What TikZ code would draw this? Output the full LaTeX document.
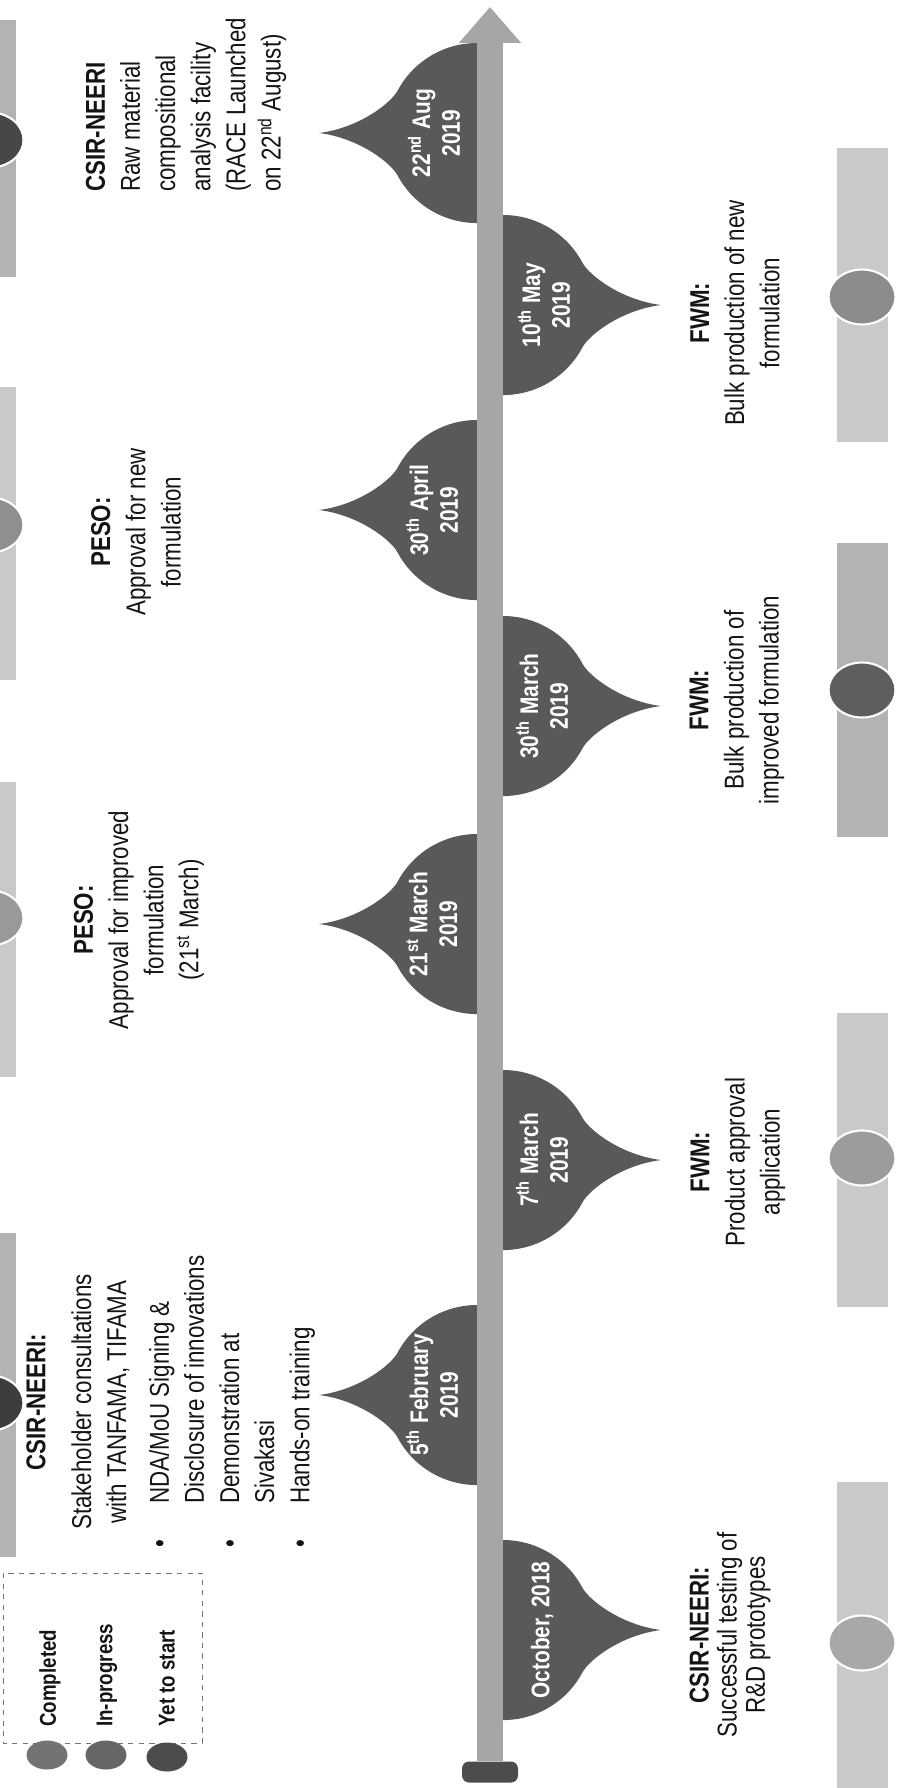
\documentclass[tikz,border=0pt]{standalone}
\usepackage{fontspec}
\setmainfont{Liberation Sans}[FakeStretch=0.82]
\usetikzlibrary{positioning,shapes.geometric,arrows.meta}
\definecolor{dropgray}{HTML}{595959}
\definecolor{bargray}{HTML}{A6A6A6}
\definecolor{striplight}{HTML}{C9C9C9}
\definecolor{stripdark}{HTML}{B3B3B3}
\definecolor{inktext}{HTML}{141414}
\tikzset{
date/.style={rotate=90, text=white, font=\fontsize{14.5pt}{17pt}\selectfont\bfseries, align=center, inner sep=0pt},
info/.style={rotate=90, text=inktext, font=\fontsize{15.5pt}{20pt}\selectfont, align=center, inner sep=0pt},
status/.style={ellipse, minimum width=1.34cm, minimum height=1.1cm, draw=white, line width=1.2pt, inner sep=0pt},
key/.style={ellipse, minimum width=0.82cm, minimum height=0.58cm, inner sep=0pt},
keytext/.style={rotate=90, anchor=west, text=inktext, font=\fontsize{13pt}{15pt}\selectfont\bfseries, inner sep=0pt},
keybox/.style={draw=black!55, dashed, line width=0.5pt},
stand/.style={rectangle, fill=dropgray!85!black, rounded corners=4pt, minimum width=1.12cm, minimum height=0.42cm, inner sep=0pt},
timeline/.style={bargray, line width=0.52cm, -{Triangle[width=1.2cm,length=0.72cm]}}
}
\newcommand{\datedrop}[3]{%
  \fill[dropgray, shift={(#1,#2)}, xscale=#3] (0,-90) arc[start angle=-90, end angle=-28, radius=90]
    .. controls (86,-30) and (118,-5) .. (158,0)
    .. controls (118,5) and (86,30) .. (79.5,42.3)
    arc[start angle=28, end angle=90, radius=90] -- cycle;}

\begin{document}
\begin{tikzpicture}[x=0.02cm, y=-0.02cm]
    \useasboundingbox (0,0) rectangle (898,1788);
    \clip (0,0) rectangle (898,1788);

    \fill[stripdark] (0,20) rectangle (16,277);
    \fill[striplight] (0,387) rectangle (16,680);
    \fill[striplight] (0,782) rectangle (16,1077);
    \fill[stripdark] (0,1233) rectangle (16,1557);
    \fill[striplight] (837,148) rectangle (888,442);
    \fill[stripdark] (837,543) rectangle (888,837);
    \fill[striplight] (837,1013) rectangle (888,1307);
    \fill[striplight] (837,1482) rectangle (888,1788);

    \node[status, fill=black!72] (t1) at (-10,140) {};
    \node[status, fill=black!44] (t2) at (-10,525) {};
    \node[status, fill=black!40] (t3) at (-10,918) {};
    \node[status, fill=black!76] (t4) at (-10,1403) {};
    \node[status, fill=black!45] (s4) at (862,297) {};
    \node[status, fill=black!63] (s3) at (862,690) {};
    \node[status, fill=black!39] (s2) at (862,1158) {};
    \node[status, fill=black!34] (s1) at (862,1643) {};

    \datedrop{503}{1630}{1}
    \datedrop{477}{1395}{-1}
    \datedrop{503}{1160}{1}
    \datedrop{477}{924}{-1}
    \datedrop{503}{706}{1}
    \datedrop{477}{510}{-1}
    \datedrop{503}{305}{1}
    \datedrop{477}{133}{-1}

    \node[stand] (base) at (490,1772) {};
    \coordinate (tlend) at (490,7);
    \draw[timeline] (base.north) -- (tlend);

    \node[date] (oct) at (542,1630) {October, 2018};
    \node[date] (feb) at (432,1395) {5\textsuperscript{th} February\\2019};
    \node[date] (mar7) at (542,1160) {7\textsuperscript{th} March\\2019};
    \node[date] (mar21) at (432,924) {21\textsuperscript{st} March\\2019};
    \node[date] (mar30) at (542,706) {30\textsuperscript{th} March\\2019};
    \node[date] (apr30) at (432,510) {30\textsuperscript{th} April\\2019};
    \node[date] (may10) at (544,305) {10\textsuperscript{th} May\\2019};
    \node[date] (aug22) at (434,133) {22\textsuperscript{nd} Aug\\2019};

    \node[info, font=\fontsize{15.5pt}{16pt}\selectfont] (csirtest) at (730,1635) {\textbf{CSIR-NEERI:}\\Successful testing of\\R\&D prototypes};
    \node[info] (fwmapp) at (738,1162) {\textbf{FWM:}\\Product approval\\application};
    \node[info] (fwmbulk) at (737,700) {\textbf{FWM:}\\Bulk production of\\improved formulation};
    \node[info] (fwmnew) at (735,313) {\textbf{FWM:}\\Bulk production of new\\formulation};

    \node[info] (csirhead) at (78,1402) {\textbf{CSIR-NEERI:}\\[6pt]Stakeholder consultations\\with TANFAMA, TIFAMA};
    \node[info, anchor=west, align=left] (csirlist) at (232,1548) {\begin{tabular}{@{}p{0.88cm}@{}l@{}}
        \textbullet & NDA/MoU Signing \&\\
         & Disclosure of innovations\\
        \textbullet & Demonstration at\\
         & Sivakasi\\
        \textbullet & Hands-on training
    \end{tabular}};
    \node[info] (pesoimp) at (139,920) {\textbf{PESO:}\\Approval for improved\\formulation\\(21\textsuperscript{st} March)};
    \node[info] (pesonew) at (136,532) {\textbf{PESO:}\\Approval for new\\formulation};
    \node[info, anchor=west, align=left] (csirrace) at (186,192) {\textbf{CSIR-NEERI}\\Raw material\\compositional\\analysis facility\\(RACE Launched\\on 22\textsuperscript{nd} August)};

    \draw[keybox] (3,1573) rectangle (202,1743);
    \node[key, fill=black!55] (kdone) at (47,1755) {};
    \node[key, fill=black!60] (kprog) at (106,1755) {};
    \node[key, fill=black!70] (kwait) at (167,1757) {};
    \node[keytext] (ldone) at (50,1727) {Completed};
    \node[keytext] (lprog) at (107,1727) {In-progress};
    \node[keytext] (lwait) at (167,1727) {Yet to start};
\end{tikzpicture}
\end{document}
